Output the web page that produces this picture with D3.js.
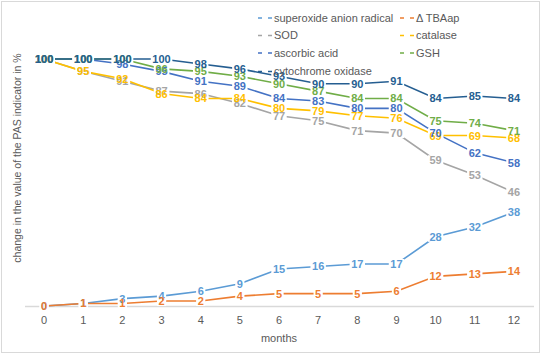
<!DOCTYPE html>
<html>
<head>
    <script src="https://d3js.org/d3.v7.min.js"></script>
    <style>
        body, html { margin: 0; background: #fff; }
        text { font-family: "Liberation Sans", Arial, sans-serif; }
    </style>
</head>
<body>
<div id="chart"></div>
<script>
    const months = [0, 1, 2, 3, 4, 5, 6, 7, 8, 9, 10, 11, 12];

    const superoxide = [0, 1, 3, 4, 6, 9, 15, 16, 17, 17, 28, 32, 38];
    const tbaap      = [0, 1, 1, 2, 2, 4, 5, 5, 5, 6, 12, 13, 14];
    const sod        = [100, 95, 91, 87, 86, 82, 77, 75, 71, 70, 59, 53, 46];
    const catalase   = [100, 95, 92, 86, 84, 84, 80, 79, 77, 76, 69, 69, 68];
    const ascorbic   = [100, 100, 98, 95, 91, 89, 84, 83, 80, 80, 70, 62, 58];
    const gsh        = [100, 100, 100, 96, 95, 93, 90, 87, 84, 84, 75, 74, 71];
    const cytochrome = [100, 100, 100, 100, 98, 96, 93, 90, 90, 91, 84, 85, 84];

    const seriesNames = ["superoxide anion radical", "\u0394 TBAap", "SOD", "catalase",
                         "ascorbic acid", "GSH", "cytochrome oxidase"];
    const seriesValues = [superoxide, tbaap, sod, catalase, ascorbic, gsh, cytochrome];
    const colors = ["#5B9BD5", "#ED7D31", "#A5A5A5", "#FFC000", "#4472C4", "#70AD47", "#255E91"];

    const width = 542, height = 354;

    const svg = d3.select("#chart").append("svg")
        .attr("width", width)
        .attr("height", height);

    // chart border
    svg.append("rect")
        .attr("x", 1.5).attr("y", 1.5)
        .attr("width", width - 4).attr("height", height - 3)
        .attr("fill", "#fff")
        .attr("stroke", "#D9D9D9");

    const x = d3.scaleBand().domain(months).range([24.5, 533.5]);
    const y = d3.scaleLinear().domain([0, 100]).range([306, 59]);
    const cx = m => x(m) + x.bandwidth() / 2;

    // x axis
    const xAxis = svg.append("g")
        .attr("transform", `translate(0,${y(0)})`)
        .call(d3.axisBottom(x).tickSize(0).tickPadding(10));
    xAxis.select(".domain").attr("stroke", "#D9D9D9").attr("stroke-width", 1.3);
    xAxis.selectAll("text")
        .attr("fill", "#595959")
        .style("font-size", "11px")
        .style("font-family", "Liberation Sans, Arial, sans-serif");

    svg.append("text")
        .attr("x", 279).attr("y", 342)
        .attr("text-anchor", "middle")
        .attr("fill", "#595959")
        .style("font-size", "11px")
        .text("months");

    svg.append("text")
        .attr("transform", "translate(21,158) rotate(-90)")
        .attr("text-anchor", "middle")
        .attr("fill", "#595959")
        .style("font-size", "10.5px")
        .text("change in the value of the PAS indicator in %");

    const line = d3.line()
        .x((d, i) => cx(months[i]))
        .y(d => y(d));

    // lines
    seriesValues.forEach((vals, s) => {
        svg.append("path")
            .datum(vals)
            .attr("fill", "none")
            .attr("stroke", colors[s])
            .attr("stroke-width", 1.6)
            .attr("d", line);
    });

    // white boxes behind the data labels (gap the lines like Excel does)
    seriesValues.forEach(vals => {
        svg.append("g").selectAll("rect")
            .data(vals)
            .join("rect")
            .attr("x", (d, i) => cx(months[i]) - String(d).length * 3.1 - 1.5)
            .attr("y", d => y(d) - 5)
            .attr("width", d => String(d).length * 6.2 + 3)
            .attr("height", 10)
            .attr("fill", "#fff");
    });

    // data labels
    seriesValues.forEach((vals, s) => {
        svg.append("g").selectAll("text")
            .data(vals)
            .join("text")
            .attr("x", (d, i) => cx(months[i]))
            .attr("y", d => y(d))
            .attr("dy", "0.36em")
            .attr("text-anchor", "middle")
            .attr("fill", colors[s])
            .style("font-size", "11px")
            .style("font-weight", "bold")
            .text(d => d);
    });

    // legend
    const legendCols = [258, 400];
    const legendRows = [18, 35.5, 53, 71.5];
    seriesNames.forEach((name, s) => {
        const lx = legendCols[s % 2], ly = legendRows[Math.floor(s / 2)];
        const g = svg.append("g");
        g.append("line")
            .attr("x1", lx).attr("x2", lx + 14)
            .attr("y1", ly).attr("y2", ly)
            .attr("stroke", colors[s])
            .attr("stroke-width", 1.6)
            .attr("stroke-dasharray", "4,6");
        g.append("text")
            .attr("x", lx + 16).attr("y", ly)
            .attr("dy", "0.36em")
            .attr("fill", "#595959")
            .style("font-size", "11px")
            .text(name);
    });
</script>
</body>
</html>
